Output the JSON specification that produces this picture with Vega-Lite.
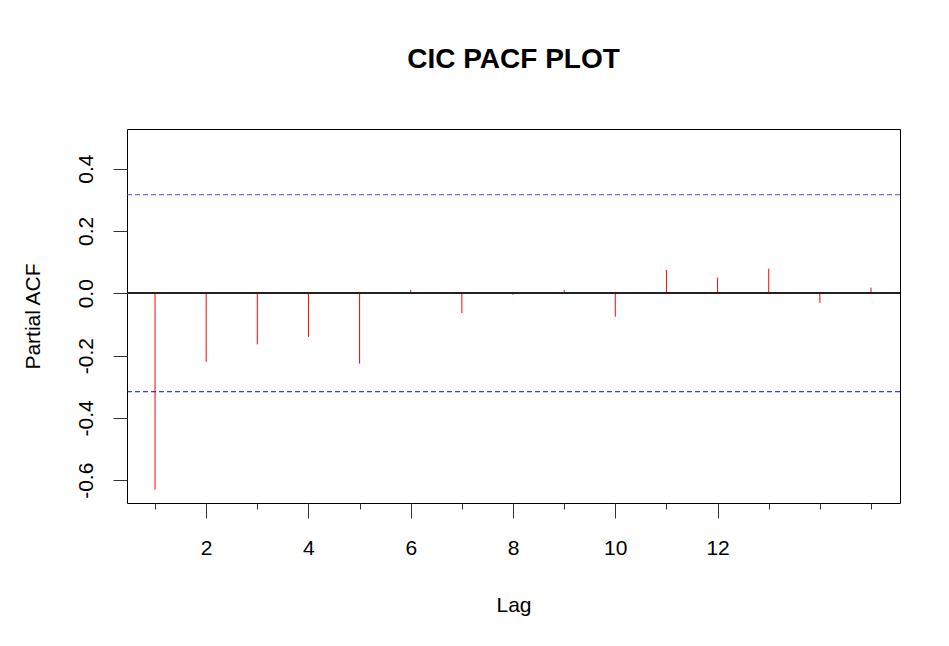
{
  "$schema": "https://vega.github.io/schema/vega-lite/v6.json",
  "width": 773,
  "height": 374,
  "autosize": {"type": "none"},
  "padding": {"left": 127, "top": 129, "right": 49, "bottom": 143},
  "background": "white",
  "title": {
    "text": "CIC PACF PLOT",
    "font": "Liberation Sans",
    "fontSize": 28,
    "fontWeight": "bold",
    "color": "black",
    "anchor": "middle",
    "baseline": "alphabetic",
    "offset": 33
  },
  "config": {
    "view": {"stroke": "black", "strokeWidth": 1},
    "axis": {
      "domain": false,
      "grid": false,
      "labelFont": "Liberation Sans",
      "titleFont": "Liberation Sans",
      "labelFontSize": 21,
      "titleFontSize": 21,
      "titleFontWeight": "normal",
      "labelColor": "black",
      "titleColor": "black",
      "tickColor": "#333333",
      "tickWidth": 1
    }
  },
  "datasets": {
    "pacf": [
      {"lag": 1, "pacf": -0.630},
      {"lag": 2, "pacf": -0.220},
      {"lag": 3, "pacf": -0.164},
      {"lag": 4, "pacf": -0.140},
      {"lag": 5, "pacf": -0.226},
      {"lag": 6, "pacf": 0.011},
      {"lag": 7, "pacf": -0.064},
      {"lag": 8, "pacf": -0.005},
      {"lag": 9, "pacf": 0.011},
      {"lag": 10, "pacf": -0.075},
      {"lag": 11, "pacf": 0.075},
      {"lag": 12, "pacf": 0.050},
      {"lag": 13, "pacf": 0.079},
      {"lag": 14, "pacf": -0.031},
      {"lag": 15, "pacf": 0.018}
    ],
    "bounds": [
      {"side": "upper", "bound": 0.316},
      {"side": "lower", "bound": -0.316}
    ]
  },
  "layer": [
    {
      "data": {"name": "pacf"},
      "mark": {"type": "rule", "color": "#ff0000", "strokeWidth": 1},
      "encoding": {
        "x": {
          "field": "lag",
          "type": "quantitative",
          "scale": {"domain": [0.452, 15.567], "nice": false, "zero": false},
          "axis": {
            "title": "Lag",
            "values": [1,2,3,4,5,6,7,8,9,10,11,12,13,14,15],
            "labelExpr": "(datum.value % 2 == 0 && datum.value <= 12) ? datum.label : ''",
            "tickSize": {"condition": {"test": "datum.value % 2 == 0 && datum.value <= 12", "value": 15}, "value": 6},
            "labelPadding": 19,
            "titlePadding": 36,
            "labelFlush": false,
            "labelOverlap": false
          }
        },
        "y": {
          "field": "pacf",
          "type": "quantitative",
          "scale": {"domain": [-0.673, 0.527], "nice": false, "zero": false},
          "axis": {
            "title": "Partial ACF",
            "values": [-0.6, -0.4, -0.2, 0, 0.2, 0.4],
            "labelExpr": "replace(format(datum.value, '.1f'), '−', '-')",
            "labelAngle": 270,
            "labelAlign": "center",
            "labelBaseline": "alphabetic",
            "tickSize": 14,
            "labelPadding": 21,
            "titlePadding": 32,
            "labelFlush": false,
            "labelOverlap": false
          }
        },
        "y2": {"datum": 0}
      }
    },
    {
      "data": {"name": "pacf"},
      "mark": {"type": "rule", "color": "#222222", "strokeWidth": 1},
      "encoding": {"y": {"datum": 0}}
    },
    {
      "data": {"name": "bounds"},
      "mark": {"type": "rule", "strokeWidth": 1, "strokeDash": [5, 3]},
      "encoding": {
        "y": {"field": "bound", "type": "quantitative"},
        "color": {
          "field": "side",
          "type": "nominal",
          "scale": {"domain": ["upper", "lower"], "range": ["#4d4dff", "#0000e6"]},
          "legend": null
        }
      }
    }
  ]
}
